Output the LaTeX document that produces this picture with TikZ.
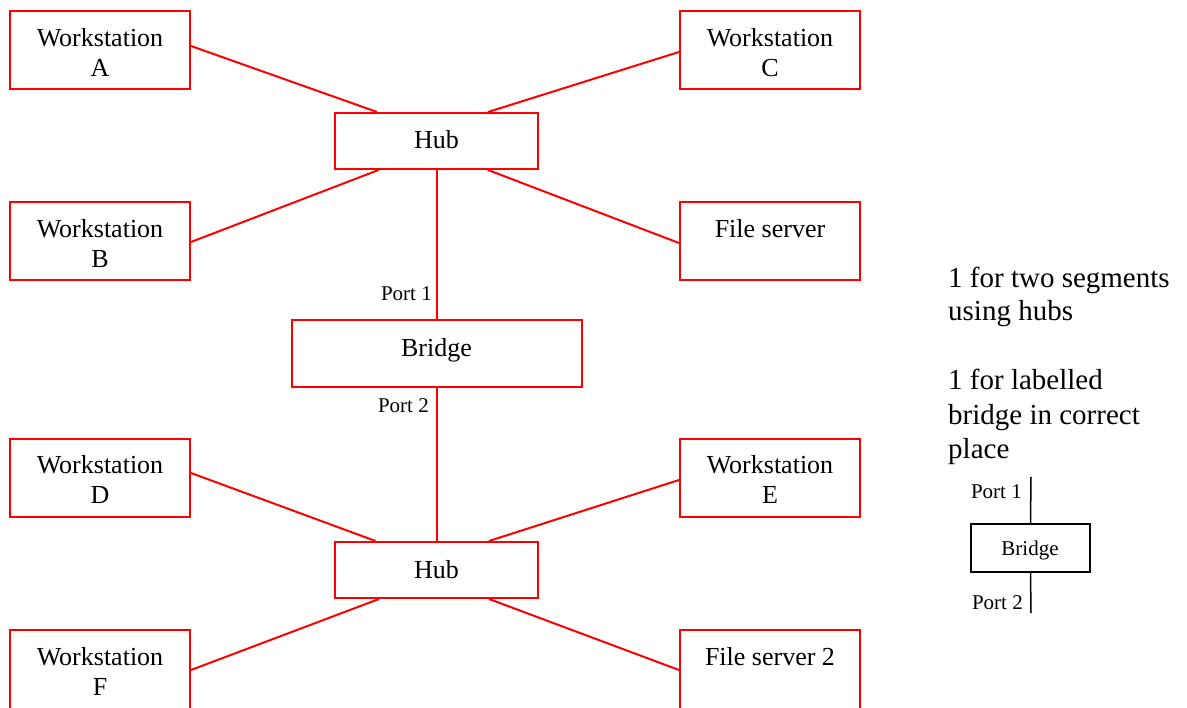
\documentclass[tikz,border=0pt]{standalone}
\usepackage{fontspec}
\setmainfont{Liberation Serif}
\begin{document}
\begin{tikzpicture}[x=1pt,y=-1pt,
  box/.style={draw=red,line width=2pt,inner sep=0pt,minimum width=180pt,minimum height=78pt},
  hubbox/.style={draw=red,line width=2pt,inner sep=0pt,minimum width=203pt,minimum height=56pt},
  bridgebox/.style={draw=red,line width=2pt,inner sep=0pt,minimum width=290pt,minimum height=67pt},
  legbox/.style={draw=black,line width=1.5pt,inner sep=0pt,minimum width=119pt,minimum height=48pt},
  link/.style={draw=red,line width=2pt},
  leglink/.style={draw=black,line width=1.5pt},
  txt/.style={inner sep=0pt,anchor=base,font=\fontsize{26}{30}\selectfont},
  small/.style={inner sep=0pt,font=\fontsize{21}{25}\selectfont},
  note/.style={inner sep=0pt,anchor=base west,font=\fontsize{29}{34}\selectfont}]
\clip (0,0) rectangle (1187,708);
\fill[white] (0,0) rectangle (1187,708);

% boxes
\node[box] (wa) at (100,50) {};
\node[box] (wc) at (770,50) {};
\node[box] (wb) at (100,241) {};
\node[box] (fs) at (770,241) {};
\node[box] (wd) at (100,478) {};
\node[box] (we) at (770,478) {};
\node[box,minimum height=100pt] (wf) at (100,680) {};
\node[box,minimum height=100pt] (fs2) at (770,680) {};
\node[hubbox] (hub1) at (436.5,141) {};
\node[hubbox] (hub2) at (436.5,570) {};
\node[bridgebox] (br) at (436.5,353.5) {};

% box texts
\node[txt] (ta1) at ([yshift=-37pt]wa.north) {Workstation};
\node[txt] (ta2) at ([yshift=-67pt]wa.north) {A};
\node[txt] (tc1) at ([yshift=-37pt]wc.north) {Workstation};
\node[txt] (tc2) at ([yshift=-67pt]wc.north) {C};
\node[txt] (tb1) at ([yshift=-37pt]wb.north) {Workstation};
\node[txt] (tb2) at ([yshift=-67pt]wb.north) {B};
\node[txt] (tfs) at ([yshift=-37pt]fs.north) {File server};
\node[txt] (td1) at ([yshift=-36pt]wd.north) {Workstation};
\node[txt] (td2) at ([yshift=-66pt]wd.north) {D};
\node[txt] (te1) at ([yshift=-36pt]we.north) {Workstation};
\node[txt] (te2) at ([yshift=-66pt]we.north) {E};
\node[txt] (tf1) at ([yshift=-36pt]wf.north) {Workstation};
\node[txt] (tf2) at ([yshift=-66pt]wf.north) {F};
\node[txt] (tfs2) at ([yshift=-36pt]fs2.north) {File server 2};
\node[txt] (th1) at ([yshift=-37pt]hub1.north) {Hub};
\node[txt] (th2) at ([yshift=-37pt]hub2.north) {Hub};
\node[txt] (tbr) at ([yshift=-38pt]br.north) {Bridge};

% port labels
\node[small,anchor=base east] (p1) at (432,301) {Port 1};
\node[small,anchor=base east] (p2) at (429,413) {Port 2};

% connectors
\draw[link] ([yshift=4pt]wa.east) -- ([xshift=-59.5pt]hub1.north);
\draw[link] ([yshift=-2pt]wc.west) -- ([xshift=51.5pt]hub1.north);
\draw[link] ([yshift=-1pt]wb.east) -- ([xshift=-58pt]hub1.south);
\draw[link] ([yshift=-2pt]fs.west) -- ([xshift=51.5pt]hub1.south);
\draw[link] (hub1.south) -- (br.north);
\draw[link] (br.south) -- (hub2.north);
\draw[link] ([yshift=5pt]wd.east) -- ([xshift=-61pt]hub2.north);
\draw[link] ([yshift=-2pt]we.west) -- ([xshift=52.5pt]hub2.north);
\draw[link] ([yshift=10pt]wf.east) -- ([xshift=-57.5pt]hub2.south);
\draw[link] ([yshift=10pt]fs2.west) -- ([xshift=52.5pt]hub2.south);

% notes
\node[note] (n1) at (948,288) {1 for two segments};
\node[note] (n2) at (948,321) {using hubs};
\node[note] (n3) at (948,390) {1 for labelled};
\node[note] (n4) at (948,425) {bridge in correct};
\node[note] (n5) at (948,459) {place};

% legend
\node[legbox] (lb) at (1030.5,548) {};
\node[small,anchor=base] (lbt) at (1030,555) {Bridge};
\coordinate (lt) at (1031,477);
\coordinate (lbot) at (1031,613);
\draw[leglink] (lb.north) -- (lt);
\draw[leglink] (lb.south) -- (lbot);
\node[small,anchor=base east] (lp1) at (1022,499) {Port 1};
\node[small,anchor=base east] (lp2) at (1023,609) {Port 2};
\end{tikzpicture}
\end{document}
